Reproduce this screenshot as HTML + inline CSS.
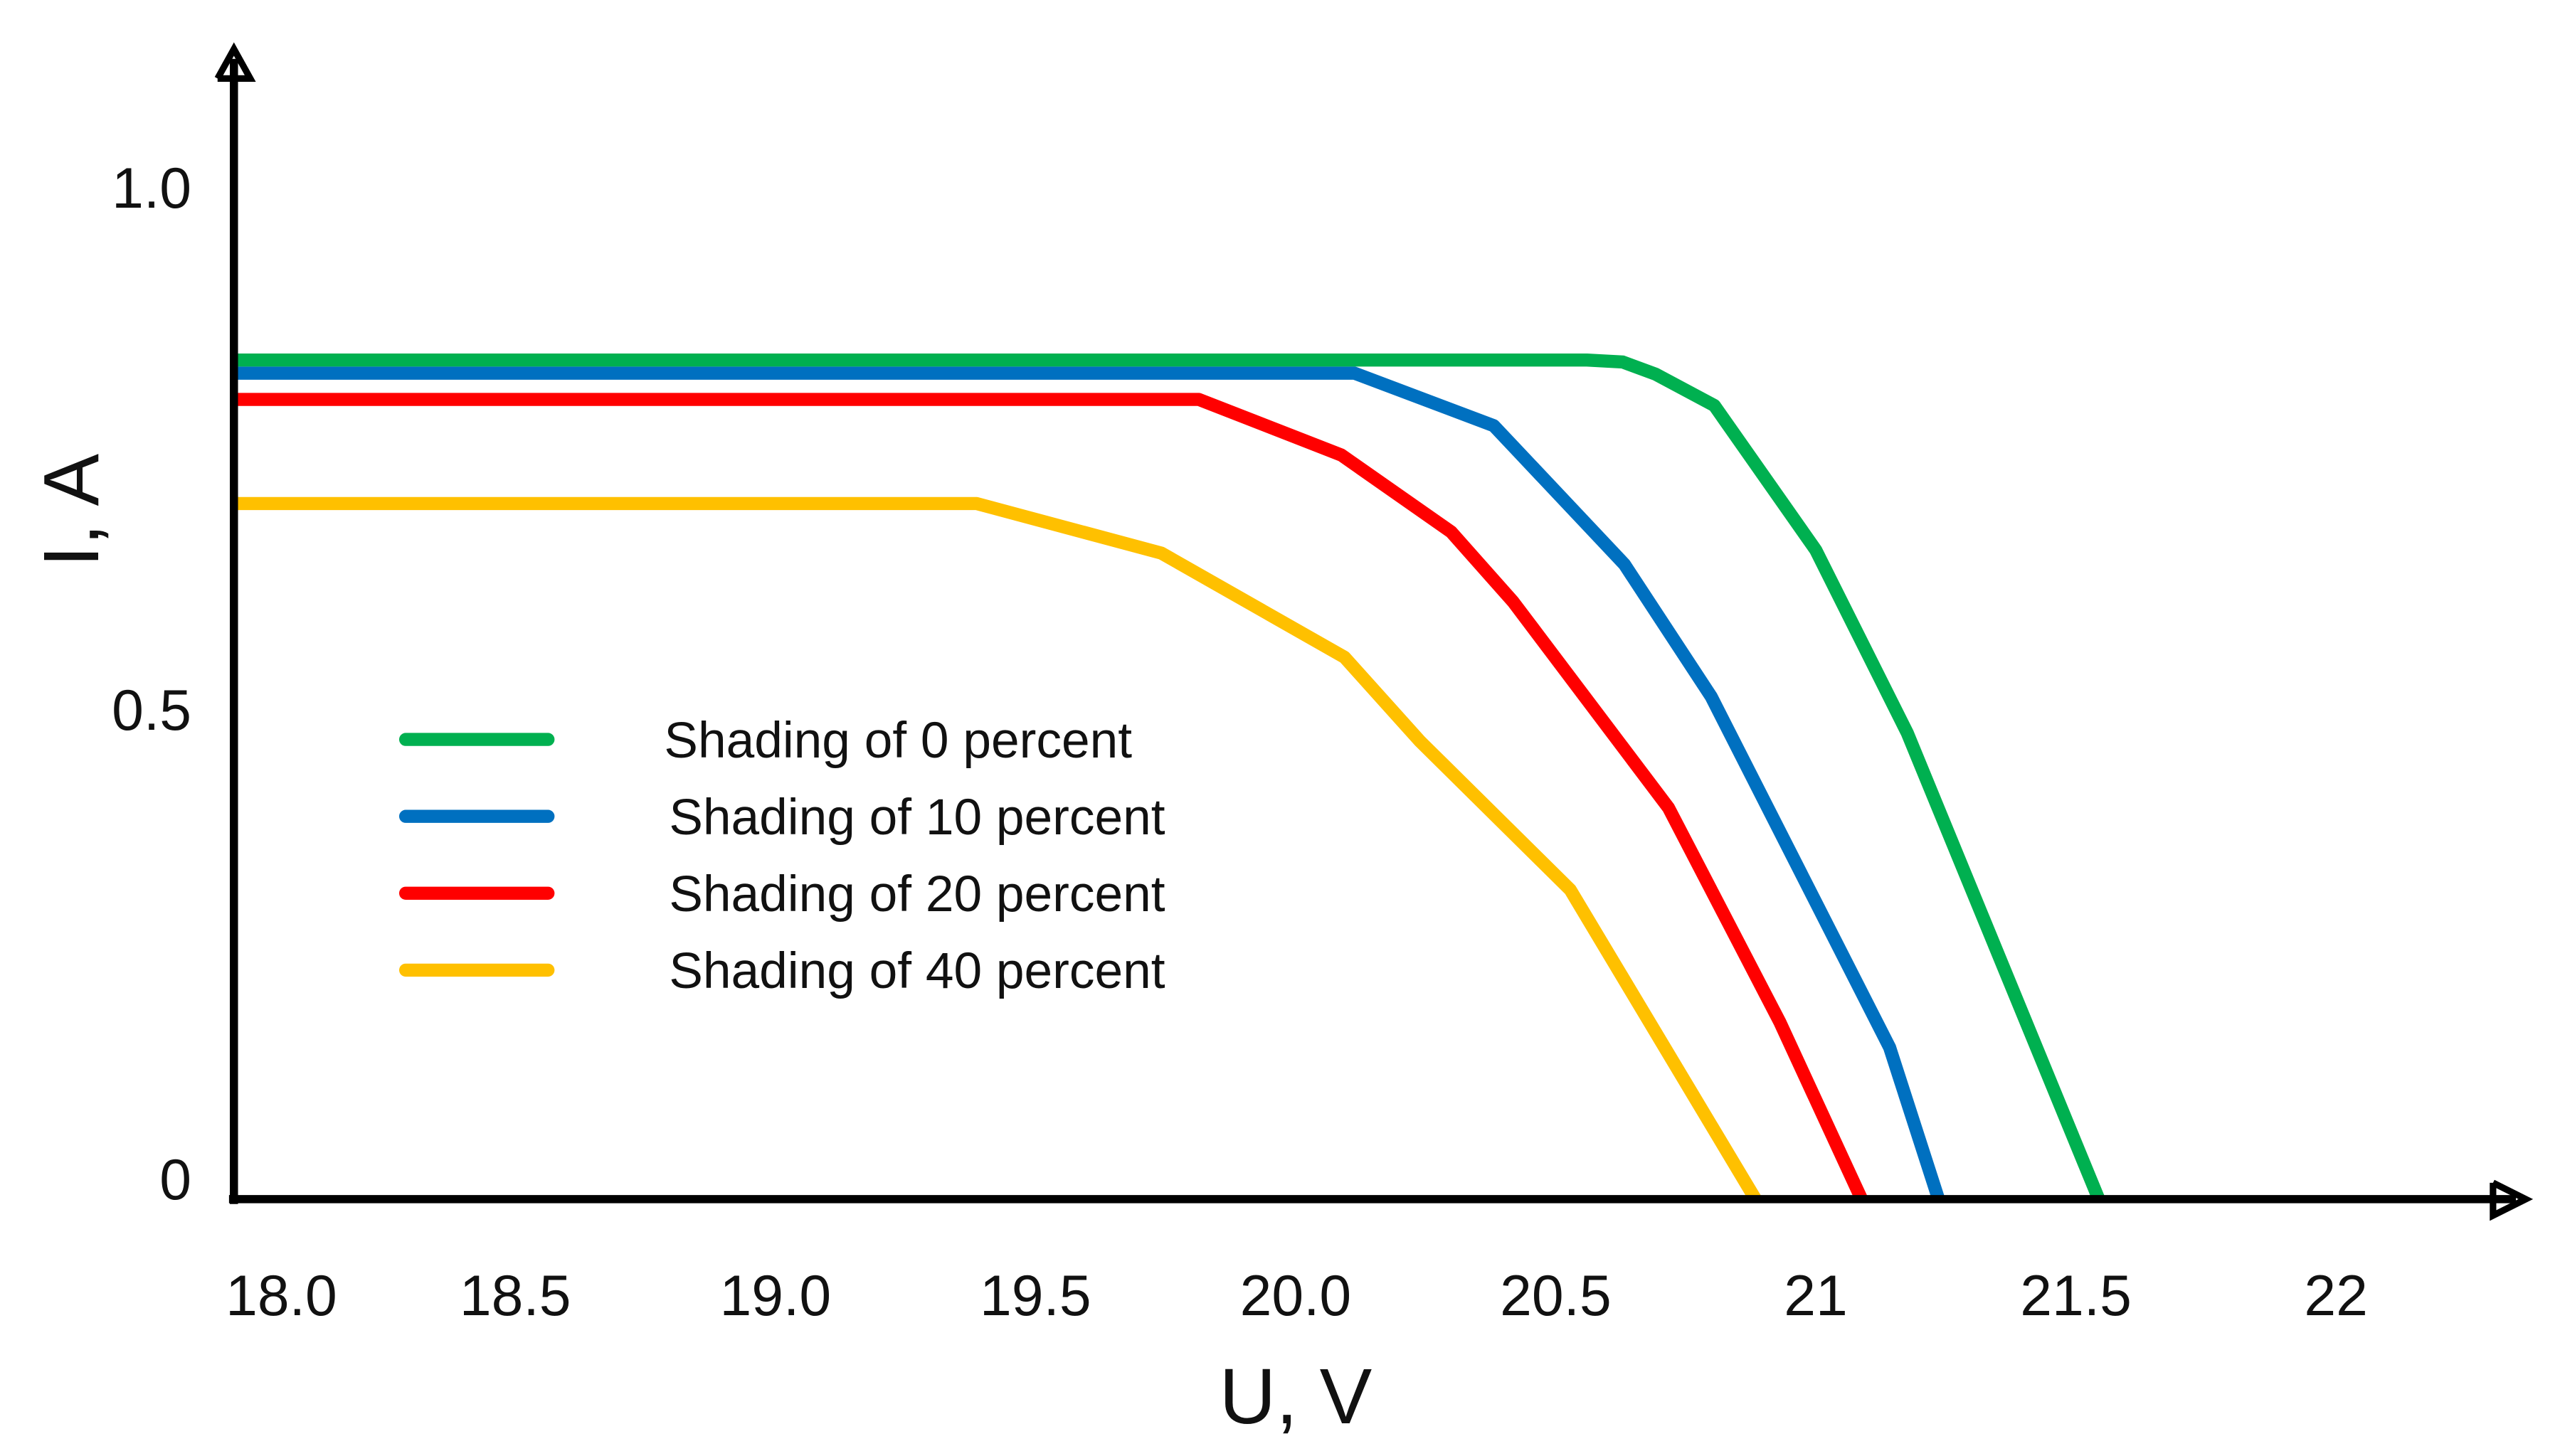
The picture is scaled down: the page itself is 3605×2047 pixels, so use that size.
<!DOCTYPE html>
<html><head><meta charset="utf-8"><style>
html,body{margin:0;padding:0;background:#fff;}
svg{display:block;}
text{font-family:"Liberation Sans",sans-serif;fill:#111;}
</style></head><body>
<svg id="chart" width="3605" height="2047" viewBox="0 0 1568 890" preserveAspectRatio="none" xmlns="http://www.w3.org/2000/svg">
<g id="series"></g>
<g id="axes">
  <line x1="143" y1="36" x2="143" y2="736" stroke="#000" stroke-width="5"/>
  <polyline points="133,48 143,30 153,48 133,48" fill="none" stroke="#000" stroke-width="4" stroke-linejoin="miter"/>
  <line x1="140" y1="733" x2="1538" y2="733" stroke="#000" stroke-width="5"/>
  <polyline points="1524,723 1544,733 1524,743 1524,723" fill="none" stroke="#000" stroke-width="4"/>
</g>
<g id="ticks"></g>
<text x="792" y="870" font-size="48" text-anchor="middle">U, V</text>
<text transform="translate(60,312) rotate(-90)" font-size="48" text-anchor="middle">I, A</text>
<g id="legend"></g>
</svg>
<script>
const xTicks = [18.0, 18.5, 19.0, 19.5, 20.0, 20.5, 21, 21.5, 22];
const xTickLabels = ["18.0","18.5","19.0","19.5","20.0","20.5","21","21.5","22"];
const yTicks = [0, 0.5, 1.0];
const yTickLabels = ["0","0.5","1.0"];
const seriesNames = ["Shading of 0 percent","Shading of 10 percent","Shading of 20 percent","Shading of 40 percent"];
const seriesColors = ["#00b050","#0070c0","#ff0000","#ffc000"];
const u0 = [17.96, 20.56, 20.629, 20.692, 20.805, 21.0, 21.176, 21.544];
const i0 = [0.830, 0.830, 0.828, 0.816, 0.785, 0.642, 0.461, 0];
const u10 = [17.96, 20.113, 20.381, 20.632, 20.799, 21.142, 21.236];
const i10 = [0.817, 0.817, 0.765, 0.628, 0.497, 0.150, 0];
const u20 = [17.96, 19.814, 20.088, 20.299, 20.418, 20.717, 20.931, 21.088];
const i20 = [0.791, 0.791, 0.736, 0.660, 0.591, 0.387, 0.175, 0];
const u40 = [17.96, 19.387, 19.742, 20.094, 20.239, 20.528, 20.884];
const i40 = [0.688, 0.688, 0.639, 0.536, 0.453, 0.306, 0];

const NS = "http://www.w3.org/2000/svg";
function xs(v){ return 792 + (v - 20) * 318; }
function ys(v){ return 733 - v * 618; }

const sg = document.getElementById('series');
const all = [[u0,i0],[u10,i10],[u20,i20],[u40,i40]];
const order = [3,2,1,0];
order.forEach(k => {
  const [u,i] = all[k];
  const pl = document.createElementNS(NS,'polyline');
  pl.setAttribute('points', u.map((v,j)=>xs(v)+','+ys(i[j])).join(' '));
  pl.setAttribute('fill','none');
  pl.setAttribute('stroke', seriesColors[k]);
  pl.setAttribute('stroke-width','8');
  pl.setAttribute('stroke-linejoin','round');
  
  
  sg.appendChild(pl);
});

const tg = document.getElementById('ticks');
xTicks.forEach((v,j) => {
  const t = document.createElementNS(NS,'text');
  t.setAttribute('x', xs(v) + (j===0 ? 16 : 0));
  t.setAttribute('y', 804);
  t.setAttribute('font-size','35');
  t.setAttribute('text-anchor','middle');
  t.textContent = xTickLabels[j];
  
  
  tg.appendChild(t);
});
yTicks.forEach((v,j) => {
  const t = document.createElementNS(NS,'text');
  t.setAttribute('x', 117);
  t.setAttribute('y', ys(v) + (v===0 ? 0 : 12) + (v===0.5 ? 10 : 0));
  t.setAttribute('font-size','35');
  t.setAttribute('text-anchor','end');
  t.textContent = yTickLabels[j];
  
  
  tg.appendChild(t);
});

const lg = document.getElementById('legend');
seriesNames.forEach((n,k) => {
  const y = 452 + k * 47;
  const l = document.createElementNS(NS,'line');
  l.setAttribute('x1',248); l.setAttribute('x2',335);
  l.setAttribute('y1',y); l.setAttribute('y2',y);
  l.setAttribute('stroke',seriesColors[k]);
  l.setAttribute('stroke-width','8');
  l.setAttribute('stroke-linecap','round');
  
  
  lg.appendChild(l);
  const t = document.createElementNS(NS,'text');
  t.setAttribute('x', k===0 ? 406 : 409);
  t.setAttribute('y', y + 11);
  t.setAttribute('font-size','31');
  t.textContent = n;
  
  
  lg.appendChild(t);
});
</script>
</body></html>
